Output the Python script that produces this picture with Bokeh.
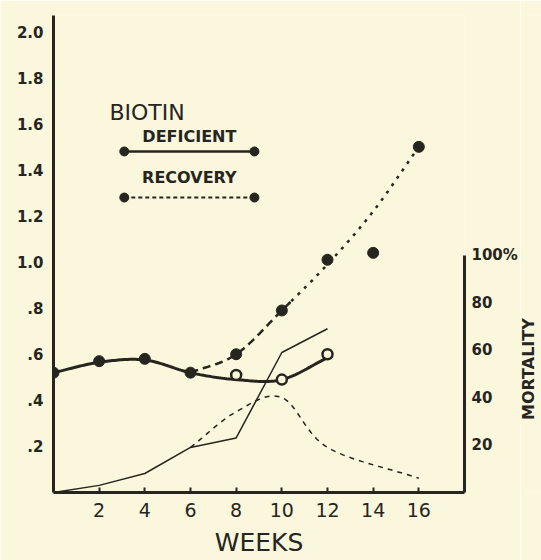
import numpy as np
from bokeh.plotting import figure
from bokeh.layouts import row
from bokeh.models import Range1d, LinearAxis, FixedTicker, Label
from bokeh.core.properties import value
from bokeh.embed import file_html
from bokeh.resources import INLINE

# ---------------- data ----------------
deficient_weeks = [0, 2, 4, 6]
deficient_values = [0.52, 0.57, 0.58, 0.52]
deficient_open_weeks = [8, 10, 12]
deficient_open_values = [0.51, 0.49, 0.60]
deficient_curve_weeks = [0, 2, 4, 6, 8, 10, 12]
deficient_curve_values = [0.52, 0.565, 0.575, 0.52, 0.49, 0.49, 0.585]

recovery_weeks = [8, 10, 12, 14, 16]
recovery_values = [0.60, 0.79, 1.01, 1.04, 1.50]
recovery_line_weeks = [6, 8, 10, 12, 14, 16]
recovery_line_values = [0.52, 0.60, 0.79, 0.99, 1.22, 1.50]

mortality_def_weeks = [0, 2, 4, 6, 8, 10, 12]
mortality_def_values = [0, 3, 8, 19, 23, 59, 69]
mortality_rec_weeks = [6, 8, 10, 12, 16]
mortality_rec_values = [19, 34, 40, 19, 6]

x_ticks = [2, 4, 6, 8, 10, 12, 14, 16]
y_ticks = [0.2, 0.4, 0.6, 0.8, 1.0, 1.2, 1.4, 1.6, 1.8, 2.0]
y_tick_labels = [".2", ".4", ".6", ".8", "1.0", "1.2", "1.4", "1.6", "1.8", "2.0"]
right_ticks = [20, 40, 60, 80, 100]
right_tick_labels = ["20", "40", "60", "80", "100%"]

BG = "#faf7dc"
INK = "#26251f"
FONT = "DejaVu Sans"
H, TOP, BOTTOM = 564, 15, 72


def catmull_rom(xs, ys, n=24):
    xs = np.asarray(xs, float)
    ys = np.asarray(ys, float)
    px = np.concatenate([[2 * xs[0] - xs[1]], xs, [2 * xs[-1] - xs[-2]]])
    py = np.concatenate([[2 * ys[0] - ys[1]], ys, [2 * ys[-1] - ys[-2]]])
    outx, outy = [], []
    for i in range(1, len(px) - 2):
        t = np.linspace(0, 1, n, endpoint=False)
        for arr, out in ((px, outx), (py, outy)):
            p0, p1, p2, p3 = arr[i - 1], arr[i], arr[i + 1], arr[i + 2]
            out.extend(0.5 * ((2 * p1) + (-p0 + p2) * t
                              + (2 * p0 - 5 * p1 + 4 * p2 - p3) * t ** 2
                              + (-p0 + 3 * p1 - 3 * p2 + p3) * t ** 3))
    outx.append(xs[-1])
    outy.append(ys[-1])
    return np.array(outx), np.array(outy)


mort_range = Range1d(0, 201)

p = figure(width=520, height=H, x_range=Range1d(0, 18), y_range=Range1d(0, 2.07),
           output_backend="svg", toolbar_location=None,
           min_border_left=53, min_border_right=53, min_border_top=TOP, min_border_bottom=BOTTOM)
p.background_fill_color = BG
p.border_fill_color = BG
p.outline_line_color = None
p.grid.visible = False
p.extra_y_ranges = {"mort": mort_range}

# axes styling
p.xaxis.ticker = FixedTicker(ticks=x_ticks)
p.yaxis.ticker = FixedTicker(ticks=y_ticks)
p.yaxis.major_label_overrides = {t: l for t, l in zip(y_ticks, y_tick_labels)}
for ax in (p.xaxis[0], p.yaxis[0]):
    ax.axis_line_width = 3
    ax.axis_line_color = INK
    ax.major_tick_out = 0
    ax.minor_tick_line_color = None
    ax.major_label_text_color = INK
    ax.major_label_text_font = FONT
    ax.major_label_text_font_style = "bold"
p.yaxis.major_tick_in = 0
p.yaxis.major_label_text_font_size = "15px"
p.yaxis.major_label_standoff = 10
p.xaxis.major_tick_in = 5
p.xaxis.major_tick_line_width = 2
p.xaxis.major_tick_line_color = INK
p.xaxis.major_label_text_font_size = "19px"
p.xaxis.major_label_text_font_style = "normal"
p.xaxis.major_label_standoff = 10
p.xaxis.axis_label = "WEEKS"
p.xaxis.axis_label_text_font = FONT
p.xaxis.axis_label_text_font_size = "25px"
p.xaxis.axis_label_text_font_style = "normal"
p.xaxis.axis_label_text_color = INK
p.xaxis.axis_label_standoff = 8

rax = LinearAxis(y_range_name="mort", bounds=(0, 100), ticker=FixedTicker(ticks=right_ticks))
rax.major_label_overrides = {t: l for t, l in zip(right_ticks, right_tick_labels)}
rax.axis_line_width = 3
rax.axis_line_color = INK
rax.major_tick_in = 0
rax.major_tick_out = 0
rax.minor_tick_line_color = None
rax.major_label_text_color = INK
rax.major_label_text_font = FONT
rax.major_label_text_font_style = "bold"
rax.major_label_text_font_size = "15px"
rax.major_label_standoff = 7
p.add_layout(rax, "right")

# mortality lines (right axis)
p.line(mortality_def_weeks, mortality_def_values, y_range_name="mort",
       line_color=INK, line_width=1.5)
mx, my = catmull_rom(mortality_rec_weeks, mortality_rec_values)
p.line(mx, my, y_range_name="mort", line_color=INK, line_width=1.5, line_dash="5 5")

# recovery line
rx, ry = catmull_rom(recovery_line_weeks, recovery_line_values)
p.line(rx[rx <= 10.5], ry[rx <= 10.5], line_color=INK, line_width=2.5, line_dash="8 5")
p.line(rx[rx >= 10.4], ry[rx >= 10.4], line_color=INK, line_width=2.5, line_dash="3 6")

# deficient curve
dx, dy = catmull_rom(deficient_curve_weeks, deficient_curve_values)
p.line(dx, dy, line_color=INK, line_width=3)

p.scatter(deficient_weeks, deficient_values, size=11, fill_color=INK, line_color=INK)
p.scatter(recovery_weeks, recovery_values, size=11, fill_color=INK, line_color=INK)
p.scatter(deficient_open_weeks, deficient_open_values, size=10, fill_color=BG,
          line_color=INK, line_width=2.5)

# legend block
p.text(x=[2.45], y=[1.65], text=["BIOTIN"], text_font=value(FONT), text_font_size="22px",
       text_color=INK, text_baseline="middle", text_align="left")
p.text(x=[5.95, 5.95], y=[1.545, 1.365], text=["DEFICIENT", "RECOVERY"], text_font=value(FONT),
       text_font_size="16px", text_font_style="bold", text_color=INK,
       text_baseline="middle", text_align="center")
p.line([3.1, 8.8], [1.48, 1.48], line_color=INK, line_width=2.5)
p.line([3.1, 8.8], [1.28, 1.28], line_color=INK, line_width=2, line_dash="4 3")
p.scatter([3.1, 8.8, 3.1, 8.8], [1.48, 1.48, 1.28, 1.28], size=9, fill_color=INK, line_color=INK)

# narrow side panel carrying the rotated MORTALITY title
side = figure(width=21, height=H, x_range=Range1d(0, 1), y_range=mort_range,
              output_backend="svg", toolbar_location=None,
              x_axis_location=None, y_axis_location=None,
              min_border_left=0, min_border_right=0, min_border_top=TOP, min_border_bottom=BOTTOM)
side.background_fill_color = BG
side.border_fill_color = BG
side.outline_line_color = None
side.grid.visible = False
side.add_layout(Label(x=0.4, y=52, text="MORTALITY", angle=np.pi / 2,
                      text_font=FONT, text_font_size="16px", text_font_style="bold",
                      text_color=INK, text_align="center", text_baseline="middle"))

open("out.html", "w").write(file_html(row(p, side, spacing=0), INLINE))
